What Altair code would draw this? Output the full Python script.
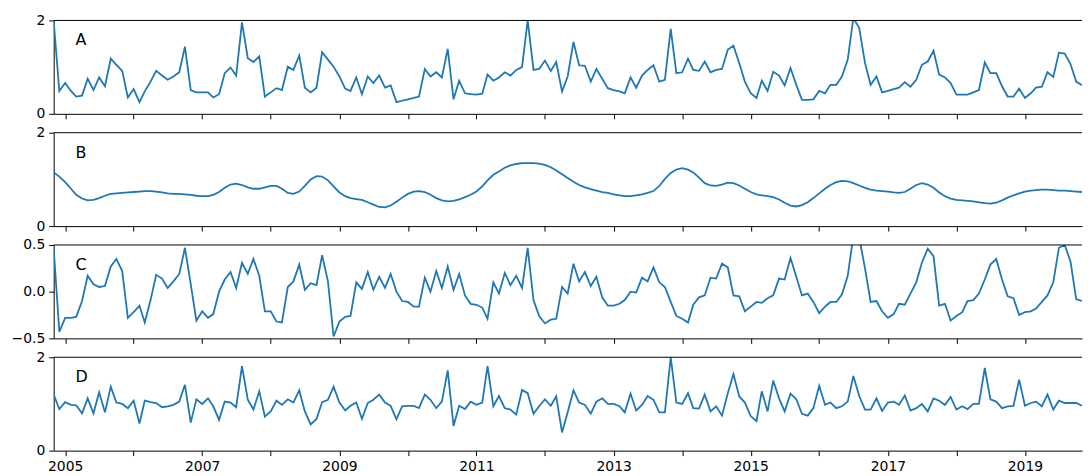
import altair as alt
import pandas as pd

start_month = "2004-11-01"
n_months = 181
year_ticks = list(range(2005, 2020))
panel_names = ["A", "B", "C", "D"]

a_values = [
    1.98, 0.49, 0.66, 0.49, 0.37, 0.39, 0.75, 0.51, 0.78, 0.59,
    1.18, 1.05, 0.92, 0.35, 0.53, 0.25, 0.48, 0.69, 0.92, 0.82,
    0.73, 0.80, 0.89, 1.44, 0.51, 0.46, 0.46, 0.46, 0.35, 0.42,
    0.87, 0.99, 0.82, 1.96, 1.19, 1.11, 1.23, 0.37, 0.46, 0.55,
    0.51, 1.01, 0.94, 1.25, 0.56, 0.46, 0.56, 1.32, 1.16, 1.01,
    0.80, 0.54, 0.49, 0.78, 0.42, 0.80, 0.66, 0.82, 0.56, 0.61,
    0.25, 0.28, 0.31, 0.34, 0.37, 0.96, 0.80, 0.89, 0.78, 1.39,
    0.31, 0.71, 0.44, 0.42, 0.41, 0.43, 0.84, 0.71, 0.78, 0.89,
    0.82, 0.94, 1.00, 2.00, 0.94, 0.96, 1.14, 0.92, 1.11, 0.48,
    0.80, 1.54, 1.04, 1.03, 0.69, 0.96, 0.75, 0.55, 0.51, 0.48,
    0.44, 0.78, 0.56, 0.82, 0.94, 1.04, 0.69, 0.73, 1.82, 0.87,
    0.89, 1.18, 0.94, 0.92, 1.12, 0.89, 0.94, 0.96, 1.37, 1.46,
    1.09, 0.69, 0.44, 0.34, 0.71, 0.49, 0.90, 0.82, 0.61, 0.98,
    0.62, 0.30, 0.30, 0.31, 0.49, 0.44, 0.62, 0.62, 0.80, 1.16,
    2.05, 1.84, 1.09, 0.62, 0.80, 0.46, 0.49, 0.53, 0.56, 0.68,
    0.58, 0.73, 1.05, 1.12, 1.35, 0.84, 0.78, 0.66, 0.41, 0.41,
    0.41, 0.46, 0.51, 1.10, 0.87, 0.87, 0.59, 0.37, 0.37, 0.54,
    0.34, 0.44, 0.56, 0.58, 0.89, 0.79, 1.31, 1.29, 1.06, 0.69,
    0.61,
]

b_values = [
    1.15, 1.06, 0.94, 0.80, 0.67, 0.59, 0.55, 0.56, 0.60, 0.65,
    0.69, 0.70, 0.71, 0.72, 0.73, 0.74, 0.75, 0.75, 0.74, 0.72,
    0.70, 0.69, 0.69, 0.68, 0.67, 0.65, 0.64, 0.64, 0.67, 0.73,
    0.82, 0.89, 0.91, 0.88, 0.83, 0.80, 0.80, 0.83, 0.86, 0.86,
    0.80, 0.71, 0.69, 0.74, 0.86, 1.00, 1.07, 1.06, 0.98, 0.85,
    0.72, 0.64, 0.60, 0.58, 0.56, 0.51, 0.46, 0.41, 0.40, 0.44,
    0.52, 0.61, 0.69, 0.74, 0.75, 0.73, 0.67, 0.60, 0.55, 0.53,
    0.54, 0.57, 0.62, 0.67, 0.74, 0.85, 0.98, 1.10, 1.17, 1.25,
    1.30, 1.33, 1.35, 1.35, 1.35, 1.34, 1.31, 1.26, 1.19, 1.11,
    1.03, 0.95, 0.88, 0.83, 0.79, 0.76, 0.73, 0.71, 0.68, 0.66,
    0.64, 0.64, 0.66, 0.68, 0.71, 0.75, 0.86, 1.01, 1.14, 1.21,
    1.24, 1.21, 1.15, 1.04, 0.92, 0.87, 0.86, 0.89, 0.93, 0.92,
    0.87, 0.80, 0.73, 0.68, 0.66, 0.64, 0.62, 0.57, 0.50, 0.44,
    0.42, 0.45, 0.51, 0.60, 0.70, 0.80, 0.88, 0.94, 0.97, 0.96,
    0.92, 0.87, 0.82, 0.78, 0.76, 0.75, 0.74, 0.72, 0.71, 0.73,
    0.80, 0.88, 0.92, 0.89, 0.82, 0.72, 0.64, 0.59, 0.56, 0.55,
    0.54, 0.53, 0.51, 0.49, 0.48, 0.50, 0.55, 0.61, 0.66, 0.70,
    0.74, 0.76, 0.77, 0.78, 0.78, 0.77, 0.76, 0.76, 0.75, 0.74,
    0.73,
]

c_values = [
    0.46, -0.43, -0.28, -0.28, -0.27, -0.10, 0.17, 0.08, 0.05, 0.06,
    0.27, 0.35, 0.22, -0.28, -0.22, -0.15, -0.33, -0.09, 0.18, 0.14,
    0.04, 0.11, 0.19, 0.47, 0.08, -0.31, -0.21, -0.28, -0.24, 0.00,
    0.13, 0.21, 0.04, 0.31, 0.19, 0.35, 0.17, -0.21, -0.21, -0.32,
    -0.33, 0.05, 0.11, 0.29, 0.02, 0.09, 0.07, 0.39, 0.11, -0.48,
    -0.32, -0.27, -0.26, 0.10, 0.03, 0.21, 0.02, 0.16, 0.04, 0.19,
    0.00, -0.10, -0.11, -0.16, -0.16, 0.15, 0.00, 0.22, 0.04, 0.27,
    0.02, 0.19, -0.04, -0.13, -0.14, -0.17, -0.29, 0.10, -0.02, 0.20,
    0.07, 0.17, 0.04, 0.47, -0.09, -0.26, -0.34, -0.30, -0.29, 0.05,
    -0.02, 0.30, 0.11, 0.21, 0.06, 0.16, -0.06, -0.15, -0.15, -0.13,
    -0.09, 0.00, -0.01, 0.15, 0.11, 0.26, 0.10, 0.05, -0.11, -0.26,
    -0.29, -0.33, -0.14, -0.06, -0.04, 0.15, 0.14, 0.30, 0.26, -0.04,
    -0.05, -0.21, -0.16, -0.11, -0.12, -0.07, -0.04, 0.14, 0.13, 0.36,
    0.16, -0.04, -0.02, -0.11, -0.23, -0.16, -0.11, -0.11, -0.03, 0.17,
    0.60, 0.58, 0.25, -0.11, -0.10, -0.21, -0.28, -0.24, -0.13, -0.14,
    -0.02, 0.10, 0.31, 0.46, 0.38, -0.15, -0.13, -0.31, -0.26, -0.22,
    -0.10, -0.09, -0.02, 0.13, 0.29, 0.35, 0.13, -0.05, -0.07, -0.25,
    -0.22, -0.21, -0.18, -0.11, -0.04, 0.10, 0.47, 0.50, 0.32, -0.08,
    -0.10,
]

d_values = [
    1.20, 0.89, 1.04, 0.98, 0.97, 0.80, 1.12, 0.80, 1.25, 0.82,
    1.37, 1.03, 1.00, 0.91, 1.07, 0.58, 1.07, 1.04, 1.02, 0.93,
    0.95, 0.98, 1.05, 1.41, 0.60, 1.10, 1.00, 1.12, 0.95, 0.66,
    1.05, 1.03, 0.93, 1.81, 1.09, 0.88, 1.27, 0.73, 0.84, 1.07,
    0.98, 1.10, 1.03, 1.29, 0.84, 0.56, 0.68, 1.04, 1.09, 1.37,
    1.03, 0.86, 0.96, 1.03, 0.68, 1.02, 1.09, 1.20, 1.03, 0.96,
    0.67, 0.95, 0.96, 0.96, 0.91, 1.20, 1.09, 0.91, 1.05, 1.72,
    0.53, 0.96, 0.89, 1.05, 0.98, 1.03, 1.81, 0.95, 1.17, 0.91,
    0.88, 0.77, 1.30, 1.23, 0.79, 0.95, 1.10, 0.96, 1.16, 0.39,
    0.82, 1.29, 1.03, 0.98, 0.79, 1.05, 1.12, 1.00, 1.00, 0.95,
    0.82, 1.22, 0.86, 0.98, 1.17, 1.09, 0.82, 0.82, 2.00, 1.03,
    1.00, 1.23, 0.91, 0.90, 1.20, 0.84, 0.95, 0.75, 1.23, 1.64,
    1.16, 1.03, 0.74, 0.63, 1.27, 0.84, 1.50, 1.12, 0.84, 1.22,
    1.10, 0.79, 0.75, 0.91, 1.39, 0.98, 1.03, 0.91, 0.95, 1.05,
    1.60, 1.17, 0.88, 0.88, 1.12, 0.85, 1.03, 1.05, 0.98, 1.18,
    0.86, 0.91, 1.00, 0.84, 1.12, 1.07, 0.98, 1.15, 0.88, 0.95,
    0.89, 1.00, 1.00, 1.77, 1.10, 1.05, 0.91, 0.95, 0.96, 1.52,
    0.96, 1.02, 1.05, 0.95, 1.20, 0.88, 1.07, 1.02, 1.02, 1.02,
    0.96,
]

series_values = [a_values, b_values, c_values, d_values]
y_domains = [[0, 2], [0, 2], [-0.5, 0.5], [0, 2]]
y_ticks = [[0, 1, 2], [0, 1, 2], [-0.5, 0.0, 0.5], [0, 1, 2]]
y_formats = ["d", "d", ".1f", "d"]

dates = pd.date_range(start_month, periods=n_months, freq="MS")

PANEL_W = 1035
PANEL_H = 94
FONT = "DejaVu Sans"


def make_panel(name, values, domain, ticks, fmt, show_x_labels):
    df = pd.DataFrame({"date": dates, "value": values})
    x_axis = alt.Axis(
        values=[alt.DateTime(year=y, month=1, date=1) for y in year_ticks],
        labels=show_x_labels,
        labelExpr="year(datum.value) % 2 == 1 ? timeFormat(datum.value, '%Y') : ''",
        title=None,
        grid=False,
        tickSize=5,
        labelPadding=4,
        labelFlush=False,
        labelOverlap=False,
    )
    y_axis = alt.Axis(
        values=ticks,
        format=fmt,
        title=None,
        grid=False,
        tickSize=5,
        labelPadding=4,
        labelFlush=False,
        labelOverlap=False,
    )
    line = alt.Chart(df).mark_line(color="#1f77b4", strokeWidth=1.8, clip=True).encode(
        x=alt.X(
            "date:T",
            scale=alt.Scale(
                domain=[
                    alt.DateTime(year=2004, month=11, date=1),
                    alt.DateTime(year=2019, month=11, date=1),
                ]
            ),
            axis=x_axis,
        ),
        y=alt.Y(
            "value:Q",
            scale=alt.Scale(domain=domain, nice=False, zero=False),
            axis=y_axis,
        ),
    )
    top_spine = alt.Chart(pd.DataFrame({"k": [0]})).mark_rule(
        color="#000000", strokeWidth=1
    ).encode(x=alt.value(0), x2=alt.value(PANEL_W), y=alt.value(0))
    label = alt.Chart(pd.DataFrame({"t": [name]})).mark_text(
        align="left", baseline="middle", fontSize=16, font=FONT, color="#000000"
    ).encode(text="t:N", x=alt.value(22), y=alt.value(20))
    return alt.layer(line, top_spine, label).properties(width=PANEL_W, height=PANEL_H)


panels = []
for k in range(4):
    panels.append(
        make_panel(
            panel_names[k],
            series_values[k],
            y_domains[k],
            y_ticks[k],
            y_formats[k],
            k == 3,
        )
    )

chart = (
    alt.vconcat(*panels, spacing=19, bounds="flush")
    .properties(padding={"left": 3, "top": 4, "right": 0, "bottom": 0})
    .configure_view(stroke=None)
    .configure_axis(
        domainColor="#000000",
        domainWidth=1,
        tickColor="#000000",
        tickWidth=1,
        labelColor="#000000",
        labelFont=FONT,
        labelFontSize=14,
    )
)

chart.save("out.html", embed_options={"renderer": "svg", "actions": False})
